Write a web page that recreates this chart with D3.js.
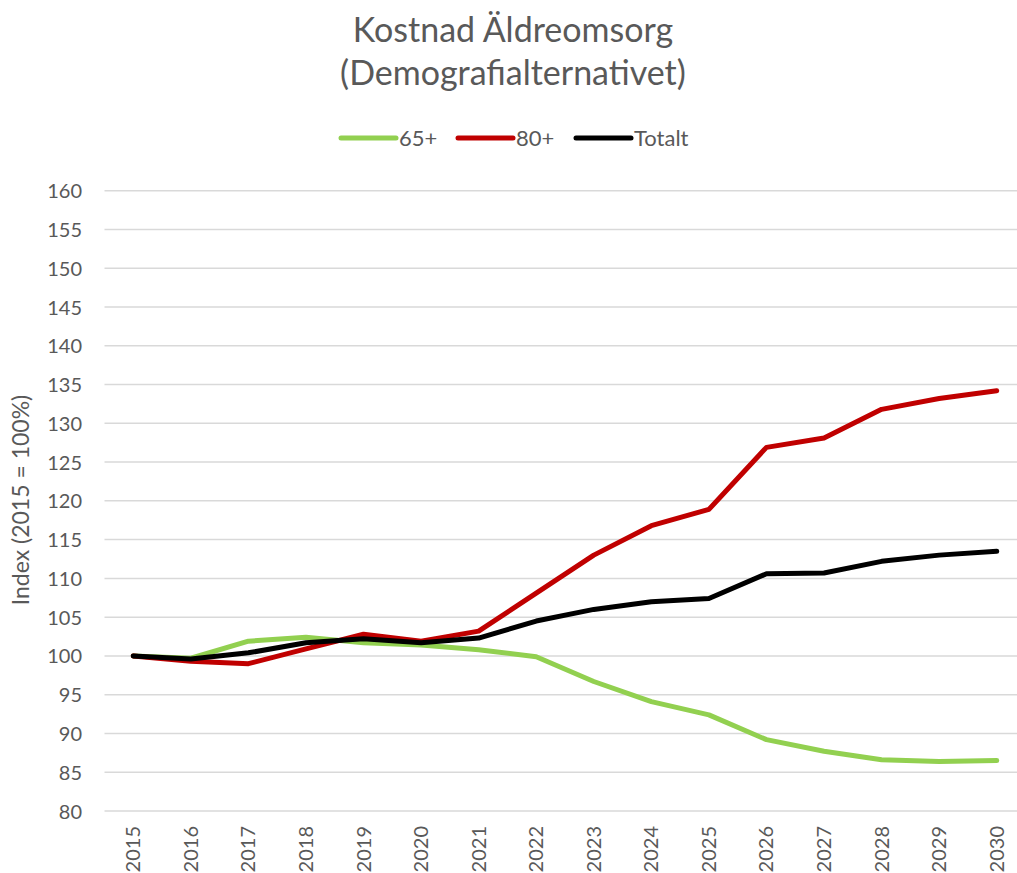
<!DOCTYPE html>
<html>
<head>
<meta charset="utf-8">
<script src="https://cdn.jsdelivr.net/npm/d3@7"></script>
<style>
  html, body { margin: 0; padding: 0; background: #fff; }
  svg { display: block; }
  text { font-family: "Lato", "Open Sans", sans-serif; fill: #595959; }
</style>
</head>
<body>
<svg id="chart" width="1017" height="873"></svg>
<script>
const titleLines = ["Kostnad Äldreomsorg", "(Demografialternativet)"];
const yAxisTitle = "Index (2015 = 100%)";
const years = ["2015","2016","2017","2018","2019","2020","2021","2022","2023","2024","2025","2026","2027","2028","2029","2030"];
const yTicks = [80, 85, 90, 95, 100, 105, 110, 115, 120, 125, 130, 135, 140, 145, 150, 155, 160];
const seriesNames = ["65+", "80+", "Totalt"];
const seriesColors = ["#92d050", "#c00000", "#000000"];
const values65 = [100, 99.7, 101.9, 102.4, 101.7, 101.4, 100.8, 99.9, 96.7, 94.1, 92.4, 89.2, 87.7, 86.6, 86.4, 86.5];
const values80 = [100, 99.3, 99.0, 100.9, 102.8, 101.9, 103.2, 108.1, 113.0, 116.8, 118.9, 126.9, 128.1, 131.8, 133.2, 134.2];
const valuesTot = [100, 99.6, 100.4, 101.7, 102.2, 101.7, 102.3, 104.5, 106.0, 107.0, 107.4, 110.6, 110.7, 112.2, 113.0, 113.5];

const seriesData = [values65, values80, valuesTot];

const svg = d3.select("#chart");

const x = d3.scaleBand().domain(years).range([104.5, 1025.5]);
const y = d3.scaleLinear().domain([80, 160]).range([811, 190.7]);

// Title
svg.append("text")
  .attr("x", 513).attr("y", 42)
  .attr("text-anchor", "middle")
  .style("font-size", "34px")
  .text(titleLines[0]);
svg.append("text")
  .attr("x", 513).attr("y", 85)
  .attr("text-anchor", "middle")
  .style("font-size", "34px")
  .text(titleLines[1]);

// Gridlines
svg.append("g")
  .selectAll("line")
  .data(yTicks)
  .join("line")
  .attr("x1", x.range()[0])
  .attr("x2", x.range()[1])
  .attr("y1", d => y(d))
  .attr("y2", d => y(d))
  .attr("stroke", "#d9d9d9")
  .attr("stroke-width", 1.5);

// Y axis
const yAxis = d3.axisLeft(y).tickValues(yTicks).tickSize(0).tickPadding(0);
const gy = svg.append("g").attr("transform", "translate(82,0)").call(yAxis);
gy.select(".domain").remove();
gy.selectAll("text")
  .style("font-size", "20px")
  .style("font-family", "Lato, 'Open Sans', sans-serif")
  .attr("fill", "#595959")
  .attr("dy", "0.35em");

// X axis
const xAxis = d3.axisBottom(x).tickSize(0).tickPadding(0);
const gx = svg.append("g").attr("transform", "translate(0,826)").call(xAxis);
gx.select(".domain").remove();
gx.selectAll("text")
  .style("font-size", "20px")
  .style("font-family", "Lato, 'Open Sans', sans-serif")
  .attr("fill", "#595959")
  .attr("transform", "rotate(-90)")
  .attr("text-anchor", "end")
  .attr("x", 0)
  .attr("y", 0)
  .attr("dy", "0.35em");

// Y axis title
svg.append("text")
  .attr("transform", "translate(29,500) rotate(-90)")
  .attr("text-anchor", "middle")
  .style("font-size", "23px")
  .text(yAxisTitle);

// Lines
const line = d3.line()
  .x((d, i) => x(years[i]) + x.bandwidth() / 2)
  .y(d => y(d));

svg.append("g")
  .selectAll("path")
  .data(seriesData)
  .join("path")
  .attr("d", d => line(d))
  .attr("fill", "none")
  .attr("stroke", (d, i) => seriesColors[i])
  .attr("stroke-width", 5)
  .attr("stroke-linejoin", "round")
  .attr("stroke-linecap", "round");

// Legend
const legendItems = [
  { name: seriesNames[0], color: seriesColors[0], x: 341 },
  { name: seriesNames[1], color: seriesColors[1], x: 458 },
  { name: seriesNames[2], color: seriesColors[2], x: 576 }
];
const lg = svg.append("g");
legendItems.forEach(it => {
  lg.append("line")
    .attr("x1", it.x).attr("x2", it.x + 55)
    .attr("y1", 138).attr("y2", 138)
    .attr("stroke", it.color)
    .attr("stroke-width", 5)
    .attr("stroke-linecap", "round");
  lg.append("text")
    .attr("x", it.x + 58).attr("y", 138)
    .attr("dy", "0.35em")
    .style("font-size", "22px")
    .text(it.name);
});
</script>
</body>
</html>
